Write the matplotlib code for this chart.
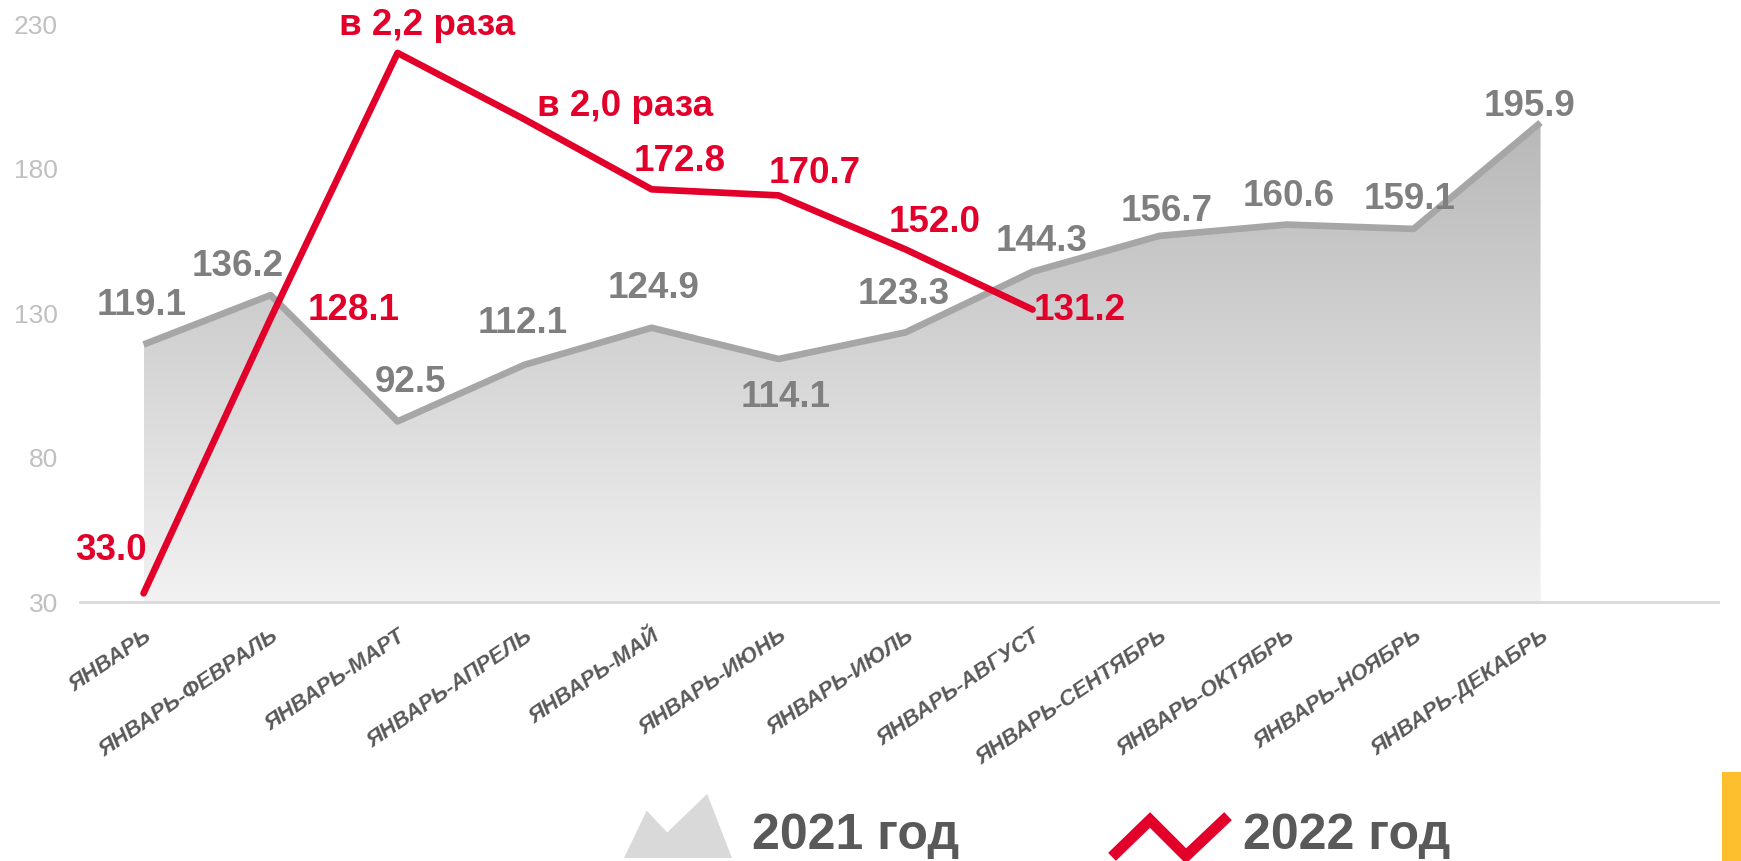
import numpy as np
import matplotlib
matplotlib.use("Agg")
import matplotlib.pyplot as plt
from matplotlib.patches import Polygon, Rectangle
from matplotlib.colors import LinearSegmentedColormap

plt.rcParams['font.family'] = ['Liberation Sans', 'DejaVu Sans']

# ======================
# DATA
# ======================
months = ["ЯНВАРЬ", "ЯНВАРЬ-ФЕВРАЛЬ", "ЯНВАРЬ-МАРТ", "ЯНВАРЬ-АПРЕЛЬ", "ЯНВАРЬ-МАЙ",
          "ЯНВАРЬ-ИЮНЬ", "ЯНВАРЬ-ИЮЛЬ", "ЯНВАРЬ-АВГУСТ", "ЯНВАРЬ-СЕНТЯБРЬ",
          "ЯНВАРЬ-ОКТЯБРЬ", "ЯНВАРЬ-НОЯБРЬ", "ЯНВАРЬ-ДЕКАБРЬ"]
values_2021 = [119.1, 136.2, 92.5, 112.1, 124.9, 114.1, 123.3, 144.3, 156.7, 160.6, 159.1, 195.9]
values_2022 = [33.0, 128.1, 220.0, 197.0, 172.8, 170.7, 152.0, 131.2]
labels_2022 = ["33.0", "128.1", "в 2,2 раза", "в 2,0 раза", "172.8", "170.7", "152.0", "131.2"]
yticks = [30, 80, 130, 180, 230]
legend_names = ["2021 год", "2022 год"]

# label offsets in pixels (dx, dy)
off_2021 = [(-2, 39), (-33, 29), (13, 39), (-2, 41), (2, 39), (7, -39),
            (-2, 38), (9, 30), (7, 24), (2, 28), (-4, 29), (-11, 16)]
off_2022 = [(-33, 43), (83, 8), (29, 27), (100, 13), (28, 28), (36, 22), (29, 27), (47, -1)]

GRAY_LINE = "#a6a6a6"
GRAY_TEXT = "#7f7f7f"
RED = "#e2002b"
DARK = "#595959"

# ======================
# FIGURE
# ======================
fig = plt.figure(figsize=(17.41, 8.61), dpi=100)
ax = fig.add_axes([0.046, 0.3008, 0.941, 0.6713])

x21 = np.arange(len(values_2021))
x22 = np.arange(len(values_2022))

# gradient area under 2021 line
grad = np.linspace(1, 0, 256).reshape(-1, 1)
cmap = LinearSegmentedColormap.from_list("g", ["#f2f2f2", "#b8b8b8"])
im = ax.imshow(grad, extent=[x21[0], x21[-1], 30, max(values_2021)], aspect='auto',
               cmap=cmap, origin='upper', zorder=1)
verts = [(x21[0], 30)] + list(zip(x21, values_2021)) + [(x21[-1], 30)]
clip = Polygon(verts, closed=True, facecolor='none', edgecolor='none')
ax.add_patch(clip)
im.set_clip_path(clip)

ax.plot(x21, values_2021, color=GRAY_LINE, lw=4.8, zorder=3, solid_capstyle='butt')
ax.plot(x22, values_2022, color=RED, lw=4.8, zorder=4, solid_capstyle='round')

for xi, v, (dx, dy) in zip(x21, values_2021, off_2021):
    ax.annotate(f"{v:.1f}", (xi, v), xytext=(dx, dy), textcoords='offset pixels',
                ha='center', va='center', fontsize=26.5, fontweight='bold',
                color=GRAY_TEXT, zorder=5, annotation_clip=False)

for xi, v, lab, (dx, dy) in zip(x22, values_2022, labels_2022, off_2022):
    ax.annotate(lab, (xi, v), xytext=(dx, dy), textcoords='offset pixels',
                ha='center', va='center', fontsize=26.5, fontweight='bold',
                color=RED, zorder=6, annotation_clip=False)

ax.set_xlim(-0.5, 12.4)
ax.set_ylim(30, 230)
ax.set_yticks(yticks)
ax.set_yticklabels([str(t) for t in yticks], fontsize=19, color="#c0c0c0")
ax.set_xticks(x21)
ax.set_xticklabels(months, rotation=34, ha='right', rotation_mode='anchor',
                   fontsize=16, fontweight='bold', style='italic', color=DARK)
ax.tick_params(axis='both', length=0)
ax.tick_params(axis='y', pad=16)
ax.tick_params(axis='x', pad=17)
for s in ['top', 'right', 'left']:
    ax.spines[s].set_visible(False)
ax.spines['bottom'].set_color("#d9d9d9")
ax.spines['bottom'].set_linewidth(2)

# ======================
# LEGEND (drawn in pixel overlay)
# ======================
ov = fig.add_axes([0, 0, 1, 1], zorder=10)
ov.set_xlim(0, 1741)
ov.set_ylim(861, 0)
ov.axis('off')

# mountain icon for 2021
mx0, mx1, mb, mt = 624, 732, 858, 794
w = mx1 - mx0
h = mb - mt
mount = [(mx0, mb), (mx0 + 0.21 * w, mb - 0.74 * h), (mx0 + 0.40 * w, mb - 0.40 * h),
         (mx0 + 0.77 * w, mt), (mx1, mb)]
ov.add_patch(Polygon(mount, closed=True, facecolor="#d9d9d9", edgecolor='none'))
ov.text(752, 836, legend_names[0], fontsize=36, fontweight='bold', color=DARK,
        ha='left', va='center')

# zigzag icon for 2022
ov.plot([1116, 1150, 1186, 1224], [853, 820, 856, 820], color=RED, lw=8,
        solid_joinstyle='miter')
ov.text(1243, 836, legend_names[1], fontsize=36, fontweight='bold', color=DARK,
        ha='left', va='center')

# yellow corner bar
ov.add_patch(Rectangle((1722, 772), 19, 89, facecolor="#fdbf2d", edgecolor='none'))

fig.savefig("out.png", dpi=100)
